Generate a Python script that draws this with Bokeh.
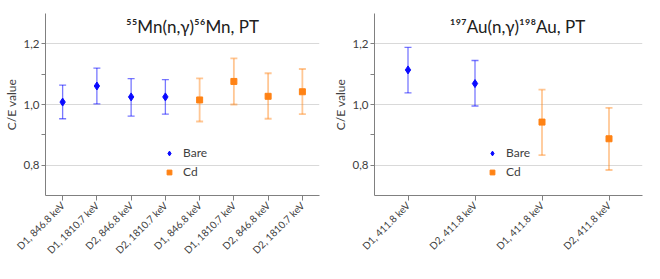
from bokeh.plotting import figure
from bokeh.layouts import row
from bokeh.models import (Range1d, FixedTicker, ColumnDataSource, Whisker, TeeHead,
                          Legend, LegendItem, Label)
from bokeh.embed import file_html
from bokeh.resources import INLINE

# ---- data ----
mn_labels = ["D1, 846.8 keV", "D1, 1810.7 keV", "D2, 846.8 keV", "D2, 1810.7 keV",
             "D1, 846.8 keV", "D1, 1810.7 keV", "D2, 846.8 keV", "D2, 1810.7 keV"]
mn_bare = [1.008, 1.061, 1.025, 1.025]
mn_bare_lo = [0.953, 1.002, 0.962, 0.968]
mn_bare_hi = [1.064, 1.120, 1.085, 1.082]
mn_cd = [1.015, 1.076, 1.027, 1.042]
mn_cd_lo = [0.944, 1.000, 0.953, 0.968]
mn_cd_hi = [1.086, 1.152, 1.103, 1.117]

au_labels = ["D1, 411.8 keV", "D2, 411.8 keV", "D1, 411.8 keV", "D2, 411.8 keV"]
au_bare = [1.114, 1.069]
au_bare_lo = [1.038, 0.995]
au_bare_hi = [1.188, 1.145]
au_cd = [0.942, 0.887]
au_cd_lo = [0.833, 0.784]
au_cd_hi = [1.049, 0.989]

y_ticks = [0.8, 1.0, 1.2]
y_minor_ticks = [0.9, 1.1]
y_tick_labels = ["0,8", "1,0", "1,2"]

BLUE = "#0a0aff"
ORANGE = "#ff8214"
FONT = "Lato"
TXT = "#404040"
H = 263
B_TOP = 13
B_BOTTOM = 68
FRAME_H = H - B_TOP - B_BOTTOM


def make_panel(title, labels, bare, bare_lo, bare_hi, cd, cd_lo, cd_hi,
               width, border_left, border_right, title_x, legend_x, legend_y):
    n = len(labels)
    p = figure(width=width, height=H, output_backend="svg", toolbar_location=None,
               x_range=Range1d(-0.5, n - 0.5), y_range=Range1d(0.7, 1.3),
               min_border_left=border_left, min_border_right=border_right,
               min_border_top=B_TOP, min_border_bottom=B_BOTTOM)
    p.outline_line_color = None
    p.background_fill_color = "white"
    p.border_fill_color = "white"

    # x axis
    p.xaxis.ticker = FixedTicker(ticks=list(range(n)))
    p.xaxis.major_label_overrides = {i: lab for i, lab in enumerate(labels)}
    p.xaxis.major_label_orientation = 0.785398
    p.xaxis.major_label_text_font = FONT
    p.xaxis.major_label_text_font_size = "10px"
    p.xaxis.major_label_text_color = TXT
    p.xaxis.major_tick_out = 5
    p.xaxis.major_tick_in = 0
    p.xaxis.minor_tick_line_color = None
    p.xaxis.axis_line_color = "#808080"
    p.xaxis.major_tick_line_color = "#808080"
    p.xaxis.major_label_standoff = 3

    # y axis
    p.yaxis.ticker = FixedTicker(ticks=y_ticks, minor_ticks=y_minor_ticks)
    p.yaxis.major_label_overrides = {t: l for t, l in zip(y_ticks, y_tick_labels)}
    p.yaxis.major_label_text_font = FONT
    p.yaxis.major_label_text_font_size = "11.5px"
    p.yaxis.major_label_text_color = TXT
    p.yaxis.axis_line_color = "#808080"
    p.yaxis.major_tick_line_color = "#808080"
    p.yaxis.minor_tick_line_color = "#808080"
    p.yaxis.major_tick_out = 4
    p.yaxis.major_tick_in = 0
    p.yaxis.minor_tick_out = 4
    p.yaxis.minor_tick_in = 0
    p.yaxis.axis_label = "C/E value"
    p.yaxis.axis_label_text_font = FONT
    p.yaxis.axis_label_text_font_size = "12px"
    p.yaxis.axis_label_text_font_style = "normal"
    p.yaxis.axis_label_text_color = TXT
    p.yaxis.axis_label_standoff = 2
    p.yaxis.major_label_standoff = 2

    p.xgrid.grid_line_color = None
    p.ygrid.grid_line_color = "#d9d9d9"

    nb = len(bare)
    xb = list(range(nb))
    xc = list(range(nb, nb + len(cd)))
    sb = ColumnDataSource(dict(x=xb, y=bare, lo=bare_lo, hi=bare_hi))
    sc = ColumnDataSource(dict(x=xc, y=cd, lo=cd_lo, hi=cd_hi))

    for src, col, alpha, lw in ((sb, BLUE, 0.55, 1.3), (sc, ORANGE, 0.45, 1.8)):
        w = Whisker(source=src, base="x", lower="lo", upper="hi",
                    line_color=col, line_alpha=alpha, line_width=lw,
                    upper_head=TeeHead(size=7, line_color=col, line_alpha=alpha, line_width=lw),
                    lower_head=TeeHead(size=7, line_color=col, line_alpha=alpha, line_width=lw))
        p.add_layout(w)

    rb = p.scatter("x", "y", source=sb, marker="diamond", size=8,
                   fill_color=BLUE, line_color=BLUE)
    rc = p.scatter("x", "y", source=sc, marker="square", size=6,
                   fill_color=ORANGE, line_color=ORANGE)

    leg = Legend(items=[LegendItem(label="Bare", renderers=[rb]),
                        LegendItem(label="Cd", renderers=[rc])],
                 location=(legend_x, legend_y), padding=0, margin=0, spacing=4,
                 glyph_width=12, glyph_height=12, label_height=12,
                 label_standoff=8, border_line_color=None,
                 background_fill_alpha=0,
                 label_text_font=FONT, label_text_font_size="12px",
                 label_text_color=TXT)
    p.add_layout(leg, "center")

    t = Label(x=title_x, y=FRAME_H - 13, x_units="screen", y_units="screen",
              text=title, text_font=FONT, text_font_size="17px",
              text_color="#202020", text_align="center", text_baseline="alphabetic")
    p.add_layout(t)
    return p


pl = make_panel("⁵⁵Mn(n,γ)⁵⁶Mn, PT", mn_labels, mn_bare, mn_bare_lo, mn_bare_hi,
                mn_cd, mn_cd_lo, mn_cd_hi,
                width=321, border_left=43, border_right=2, title_x=147,
                legend_x=118, legend_y=16)
pr = make_panel("¹⁹⁷Au(n,γ)¹⁹⁸Au, PT", au_labels, au_bare, au_bare_lo, au_bare_hi,
                au_cd, au_cd_lo, au_cd_hi,
                width=323, border_left=53, border_right=2, title_x=143,
                legend_x=112, legend_y=16)

layout = row(pl, pr)
open("out.html", "w").write(file_html(layout, INLINE))
